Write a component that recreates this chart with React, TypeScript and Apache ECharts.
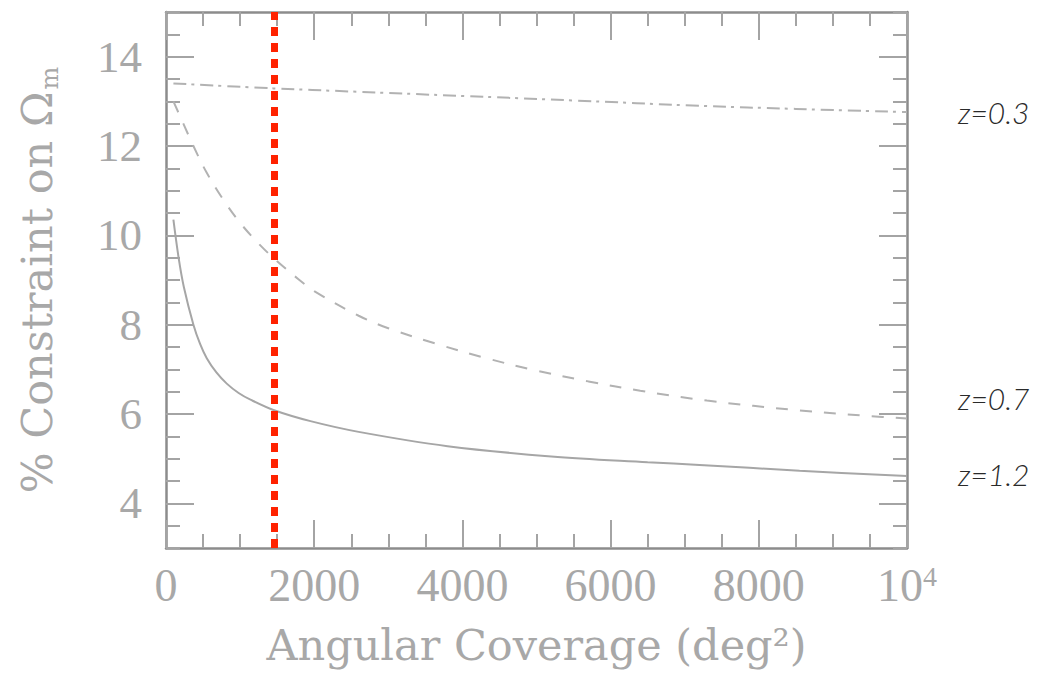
import React, { useEffect, useRef } from "react";
import * as echarts from "echarts";

// ---- data ----
const xTickValues = [0, 2000, 4000, 6000, 8000, 10000];
const yTickValues = [4, 6, 8, 10, 12, 14];
const markerCoverage = 1460;

const z03Coverage = [100, 1450, 2500, 4000, 5500, 7200, 8500, 10000];
const z03Constraint = [13.4, 13.29, 13.22, 13.12, 13.02, 12.9, 12.83, 12.76];

const z07Coverage = [100, 240, 370, 550, 780, 1000, 1270, 1500, 1800, 2000, 2600, 3000, 3650, 4300, 4950, 5700, 6400, 7300, 8550, 9450, 10000];
const z07Constraint = [13.0, 12.48, 12.0, 11.4, 10.78, 10.28, 9.78, 9.42, 9.0, 8.75, 8.2, 7.92, 7.57, 7.26, 6.99, 6.73, 6.52, 6.3, 6.08, 5.96, 5.9];

const z12Coverage = [100, 170, 240, 370, 460, 550, 680, 820, 980, 1140, 1450, 1950, 2600, 3800, 5200, 6500, 7200, 8550, 10000];
const z12Constraint = [10.35, 9.5, 8.85, 8.0, 7.57, 7.25, 6.93, 6.68, 6.47, 6.32, 6.09, 5.84, 5.6, 5.28, 5.05, 4.92, 4.86, 4.73, 4.61];

const seriesLabels = ["z=0.3", "z=0.7", "z=1.2"];

const pairs = (xs: number[], ys: number[]) => xs.map((x, i) => [x, ys[i]]);

const tickFont = "Liberation Serif";
const titleFont = "DejaVu Serif";
const axisColor = "#8c8c8c";
const tickColor = "#a4a4a4";
const labelColor = "#a8a8a8";

function makeY(position: "left" | "right", major: boolean): any {
  const ax: any = {
    type: "value",
    min: 3,
    max: 15,
    position,
    splitLine: { show: false },
    axisLine: { show: major, onZero: false, lineStyle: { color: axisColor, width: 2.5 } },
    axisTick: {
      show: true,
      inside: true,
      length: major ? 28 : 14,
      lineStyle: { color: tickColor, width: 2 },
    },
    axisLabel: { show: false },
  };
  if (major) {
    ax.axisTick.customValues = yTickValues;
    if (position === "left") {
      ax.axisLabel = {
        show: true,
        customValues: yTickValues,
        fontFamily: tickFont,
        fontSize: 45,
        color: labelColor,
        margin: 24,
      };
      ax.name = "% Constraint on Ω{sub|m}";
      ax.nameLocation = "middle";
      ax.nameRotate = 90;
      ax.nameGap = 104;
      ax.nameTextStyle = {
        fontFamily: titleFont,
        fontSize: 43,
        color: labelColor,
        lineHeight: 50,
        rich: {
          sub: {
            fontFamily: titleFont,
            fontSize: 24,
            color: labelColor,
            lineHeight: 24,
            padding: [20, 0, 0, 2],
            verticalAlign: "bottom",
          },
        },
      };
    }
  } else {
    ax.interval = 0.5;
  }
  return ax;
}

function makeX(position: "bottom" | "top"): any {
  const ax: any = {
    type: "value",
    min: 0,
    max: 10000,
    interval: 2000,
    position,
    splitLine: { show: false },
    axisLine: { show: true, onZero: false, lineStyle: { color: axisColor, width: 2.5 } },
    axisTick: { show: true, inside: true, length: 28, lineStyle: { color: tickColor, width: 2 } },
    minorTick: { show: true, splitNumber: 4, length: 14, lineStyle: { color: tickColor, width: 2 } },
    axisLabel: { show: false },
  };
  if (position === "bottom") {
    ax.axisLabel = {
      show: true,
      customValues: xTickValues,
      fontFamily: tickFont,
      fontSize: 46,
      color: labelColor,
      margin: 14,
      formatter: (v: number) => (v === 10000 ? "10{sup|4}" : String(v)),
      rich: {
        sup: {
          fontFamily: tickFont,
          fontSize: 28,
          color: labelColor,
          verticalAlign: "top",
          lineHeight: 28,
          padding: [0, 0, 14, 0],
        },
      },
    };
    ax.name = "Angular Coverage (deg²)";
    ax.nameLocation = "middle";
    ax.nameGap = 75;
    ax.nameTextStyle = { fontFamily: titleFont, fontSize: 43, color: labelColor };
  }
  return ax;
}

const lineBase = {
  type: "line",
  xAxisIndex: 0,
  yAxisIndex: 0,
  showSymbol: false,
  symbol: "none",
  smooth: 0.35,
};

export default function App() {
  const ref = useRef<HTMLDivElement>(null);
  useEffect(() => {
    if (!ref.current) return;
    const chart = echarts.init(ref.current, undefined, { renderer: "svg" });
    const labelYs = [112, 398, 474];
    chart.setOption({
      animation: false,
      backgroundColor: "#ffffff",
      grid: { left: 166, right: 156, top: 12, bottom: 127 },
      xAxis: [makeX("bottom"), makeX("top")],
      yAxis: [makeY("left", true), makeY("left", false), makeY("right", true), makeY("right", false)],
      series: [
        {
          ...lineBase,
          name: seriesLabels[0],
          data: pairs(z03Coverage, z03Constraint),
          lineStyle: { color: "#b2b2b2", width: 2, type: [13, 5, 3, 6] },
          markLine: {
            silent: true,
            symbol: ["none", "none"],
            label: { show: false },
            data: [{ xAxis: markerCoverage }],
            lineStyle: { color: "#ff2200", width: 7, type: [9, 7] },
            z: 10,
          },
        },
        {
          ...lineBase,
          name: seriesLabels[1],
          data: pairs(z07Coverage, z07Constraint),
          lineStyle: { color: "#b2b2b2", width: 2, type: [12, 12] },
        },
        {
          ...lineBase,
          name: seriesLabels[2],
          data: pairs(z12Coverage, z12Constraint),
          lineStyle: { color: "#a6a6a6", width: 2 },
        },
      ],
      graphic: seriesLabels.map((t, i) => ({
        type: "text",
        x: 958,
        y: labelYs[i],
        style: {
          text: t,
          font: "italic 300 30px Lato",
          fill: "#2a2a2a",
          textVerticalAlign: "middle",
        },
      })),
    });
    return () => chart.dispose();
  }, []);
  return (
    <div
      ref={ref}
      style={{ position: "absolute", left: 0, top: 0, width: 1063, height: 675 }}
    />
  );
}
